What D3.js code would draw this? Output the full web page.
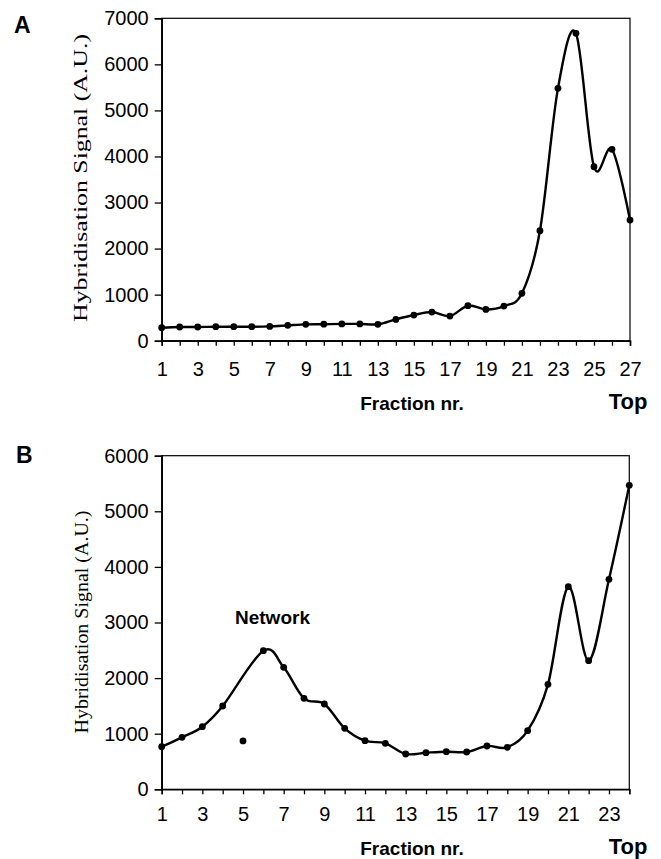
<!DOCTYPE html>
<html>
<head>
<meta charset="utf-8">
<script src="https://cdn.jsdelivr.net/npm/d3@7"></script>
<style>
  body { margin: 0; background: #fff; }
  svg { display: block; }
  text { fill: #000; }
</style>
</head>
<body>
<svg id="viz" width="661" height="859"></svg>
<script>
// panel A: sucrose gradient fractions 1..27
var aFractions = d3.range(1, 28);
var aSignal = [282, 297, 297, 304, 304, 304, 311, 333, 355, 358, 365, 365, 355,
               463, 557, 622, 535, 760, 680, 752, 1028, 2387, 5479, 6673, 3777, 4155, 2620];
var aYTicks = [0, 1000, 2000, 3000, 4000, 5000, 6000, 7000];

// panel B: fractions 1..24, fraction 5 is a lone point the line does not pass through
var bFractions = d3.range(1, 25);
var bSignal = [766, 935, 1126, 1498, 870, 2493, 2194, 1637, 1534, 1097, 874, 827,
               635, 658, 676, 671, 779, 755, 1054, 1888, 3644, 2313, 3777, 5468];
var bOffLine = [5];
var bYTicks = [0, 1000, 2000, 3000, 4000, 5000, 6000];

var sans = "'Liberation Sans', Arial, sans-serif";
var serif = "'Liberation Serif', 'Times New Roman', serif";

var svg = d3.select("#viz");

function panel(o) {
  var x = d3.scaleLinear().domain([o.fr[0], o.fr[o.fr.length - 1]]).range([o.left, o.right]);
  var y = d3.scaleLinear().domain([0, o.yTicks[o.yTicks.length - 1]]).range([o.bottom, o.top]);
  var g = svg.append("g");

  // frame
  g.append("rect")
    .attr("x", o.left).attr("y", o.top)
    .attr("width", o.right - o.left).attr("height", o.bottom - o.top)
    .attr("fill", "none").attr("stroke", "#000").attr("stroke-width", 1.2);

  var ya = g.append("g").attr("transform", "translate(" + o.left + ",0)")
    .call(d3.axisLeft(y).tickValues(o.yTicks).tickSize(7).tickPadding(6).tickFormat(d3.format("d")));
  var xa = g.append("g").attr("transform", "translate(0," + o.bottom + ")")
    .call(d3.axisBottom(x).tickValues(o.fr).tickSize(5).tickPadding(o.xPad)
      .tickFormat(function(d) { return d % 2 ? d : ""; }));
  [ya, xa].forEach(function(a) {
    a.select(".domain").attr("stroke-width", 1.6);
    a.selectAll(".tick line").attr("stroke-width", 1.3);
    a.selectAll("text").style("font-family", sans).style("font-size", "20px");
  });

  var pts = o.fr.map(function(f, i) { return {f: f, v: o.vals[i]}; });
  var linePts = pts.filter(function(d) { return o.skip.indexOf(d.f) < 0; });

  var line = d3.line()
    .x(function(d) { return x(d.f); })
    .y(function(d) { return y(d.v); })
    .curve(d3.curveCardinal.tension(0));

  g.append("path").datum(linePts)
    .attr("d", line)
    .attr("fill", "none").attr("stroke", "#000").attr("stroke-width", 2.4);

  g.selectAll("circle").data(pts).enter().append("circle")
    .attr("cx", function(d) { return x(d.f); })
    .attr("cy", function(d) { return y(d.v); })
    .attr("r", 3.4).attr("fill", "#000");

  // labels
  g.append("text").attr("x", o.letterX).attr("y", o.letterY)
    .style("font-family", sans).style("font-weight", "bold").style("font-size", "23px")
    .text(o.letter);

  g.append("text")
    .attr("transform", "translate(" + o.titleX + "," + o.titleY + ") rotate(-90)")
    .attr("text-anchor", "middle")
    .attr("textLength", o.titleLen).attr("lengthAdjust", "spacingAndGlyphs")
    .style("font-family", serif).style("font-size", "19px")
    .text("Hybridisation Signal (A.U.)");

  g.append("text").attr("x", 412).attr("y", o.xTitleY)
    .attr("text-anchor", "middle")
    .style("font-family", sans).style("font-weight", "bold").style("font-size", "19px")
    .text("Fraction nr.");

  g.append("text").attr("x", 628).attr("y", o.xTitleY - 1)
    .attr("text-anchor", "middle")
    .style("font-family", sans).style("font-weight", "bold").style("font-size", "22px")
    .text("Top");

  return {g: g, x: x, y: y};
}

panel({
  fr: aFractions, vals: aSignal, yTicks: aYTicks, skip: [],
  left: 161.7, right: 630, top: 18.3, bottom: 340.7, xPad: 16,
  letter: "A", letterX: 14, letterY: 33,
  titleX: 87, titleY: 178, titleLen: 288, xTitleY: 410
});

var pb = panel({
  fr: bFractions, vals: bSignal, yTicks: bYTicks, skip: bOffLine,
  left: 161.7, right: 629.3, top: 455.7, bottom: 789.3, xPad: 13,
  letter: "B", letterX: 16, letterY: 463,
  titleX: 88, titleY: 622, titleLen: 223, xTitleY: 855
});

pb.g.append("text").attr("x", 235).attr("y", 624)
  .style("font-family", sans).style("font-weight", "bold").style("font-size", "19px")
  .text("Network");
</script>
</body>
</html>
